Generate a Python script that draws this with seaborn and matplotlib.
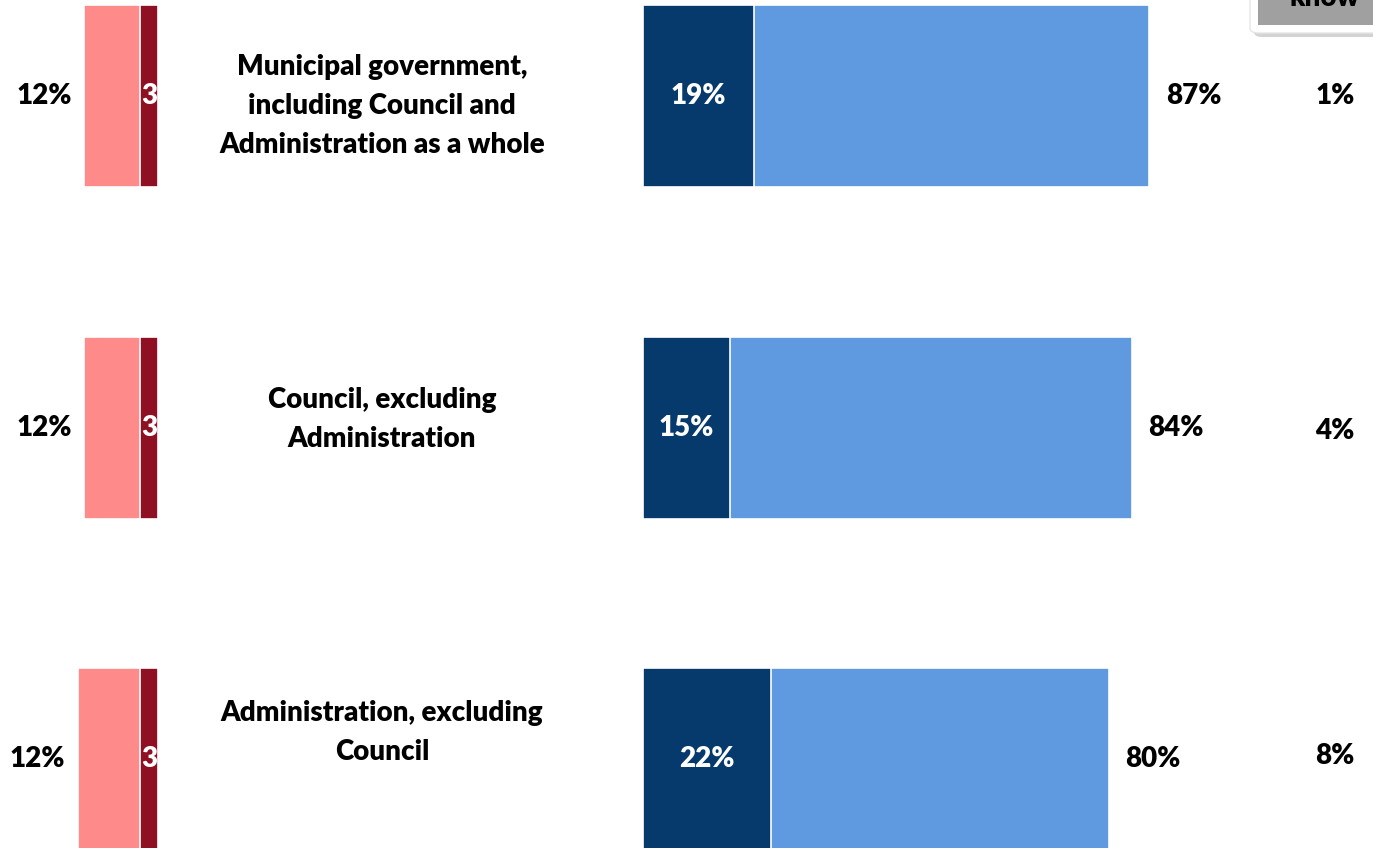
import matplotlib
matplotlib.use("Agg")
import matplotlib.pyplot as plt
import matplotlib.transforms as mtransforms
from matplotlib.patches import FancyBboxPatch
import pandas as pd
import seaborn as sns

# ---- data -------------------------------------------------------------
categories = [
    "Municipal government,\nincluding Council and\nAdministration as a whole",
    "Council, excluding\nAdministration",
    "Administration, excluding\nCouncil",
]
very_neg = [3, 3, 3]
somewhat_neg = [9.3, 9.3, 10.4]
neg_total_labels = ["12%", "12%", "12%"]
very_pos = [19, 15, 22]
somewhat_pos = [68, 69, 58]
dont_know = [1, 4, 8]

# ---- style ------------------------------------------------------------
C_SOME_NEG = "#FF8A8A"
C_VERY_NEG = "#8E1022"
C_VERY_POS = "#06396C"
C_SOME_POS = "#5F9AE1"
FONT = ["Lato", "DejaVu Sans"]
FS = 20
WEIGHT = "heavy"
label_nudge = [0.03, -0.025, -0.08]   # vertical tweak of category labels (rows)
dk_nudge = [0.0, 0.01, -0.01]

sns.set_theme(style="white")
plt.rcParams["font.family"] = FONT
plt.rcParams["text.color"] = "black"

W, H = 1373, 848
fig = plt.figure(figsize=(W / 100, H / 100), dpi=100)
fig.patch.set_facecolor("white")

df = pd.DataFrame({
    "category": categories,
    "very_neg": very_neg,
    "neg_total": [a + b for a, b in zip(very_neg, somewhat_neg)],
    "very_pos": very_pos,
    "pos_total": [a + b for a, b in zip(very_pos, somewhat_pos)],
    "dont_know": dont_know,
})

row_px = 331.5
ylim = (H / row_px - 96 / row_px, -96 / row_px)
bar_w = 182 / row_px

# left (negative) panel: zero at the right edge, bars grow leftwards
ax_l = fig.add_axes([0, 0, 158 / W, 1])
neg_px = 6.0
sns.barplot(data=df, x="neg_total", y="category", orient="h", color=C_SOME_NEG,
            width=bar_w, edgecolor="white", linewidth=1.2, saturation=1, ax=ax_l)
sns.barplot(data=df, x="very_neg", y="category", orient="h", color=C_VERY_NEG,
            width=bar_w, edgecolor="white", linewidth=1.2, saturation=1, ax=ax_l)
ax_l.set_xlim(158 / neg_px, 0)
ax_l.set_ylim(*ylim)

for i, row in df.iterrows():
    ax_l.text(row["very_neg"] / 2, i, f"{row['very_neg']:g}", color="white",
              ha="center", va="center", fontsize=FS, fontweight=WEIGHT, clip_on=True)
    ax_l.annotate(neg_total_labels[i], xy=(row["neg_total"], i), xytext=(-9, 0),
                  textcoords="offset points", ha="right", va="center",
                  fontsize=FS, fontweight=WEIGHT, color="black")

# right (positive) panel
pos_px = 5.82
x0 = 643
ax_r = fig.add_axes([x0 / W, 0, (W - x0) / W, 1])
sns.barplot(data=df, x="pos_total", y="category", orient="h", color=C_SOME_POS,
            width=bar_w, edgecolor="white", linewidth=1.2, saturation=1, ax=ax_r)
sns.barplot(data=df, x="very_pos", y="category", orient="h", color=C_VERY_POS,
            width=bar_w, edgecolor="white", linewidth=1.2, saturation=1, ax=ax_r)
ax_r.set_xlim(0, (W - x0) / pos_px)
ax_r.set_ylim(*ylim)

for i, row in df.iterrows():
    ax_r.text(row["very_pos"] / 2, i, f"{row['very_pos']}%", color="white",
              ha="center", va="center", fontsize=FS, fontweight=WEIGHT)
    ax_r.annotate(f"{row['pos_total']}%", xy=(row["pos_total"], i), xytext=(12, 0),
                  textcoords="offset points", ha="left", va="center",
                  fontsize=FS, fontweight=WEIGHT, color="black")

for ax in (ax_l, ax_r):
    ax.set_axis_off()

# category labels and "don't know" column
blend = mtransforms.blended_transform_factory(fig.transFigure, ax_r.transData)
for i, cat in enumerate(categories):
    fig.text(382 / W, i + label_nudge[i], cat, transform=blend, ha="center",
             va="center", fontsize=FS, fontweight=WEIGHT, linespacing=1.62,
             color="black")
    fig.text(1335 / W, i + dk_nudge[i], f"{dont_know[i]}%", transform=blend,
             ha="center", va="center", fontsize=FS, fontweight=WEIGHT,
             color="black")

# column header box for "Don't know"
shadow = FancyBboxPatch((1254 / W, (H - 37) / H), 140 / W, 60 / H,
                        boxstyle="round,pad=0,rounding_size=0.006",
                        transform=fig.transFigure, facecolor="#c8c8c8",
                        edgecolor="none", alpha=0.8, zorder=5)
box = FancyBboxPatch((1250 / W, (H - 33) / H), 140 / W, 60 / H,
                     boxstyle="round,pad=0,rounding_size=0.006",
                     transform=fig.transFigure, facecolor="white",
                     edgecolor="#e6e6e6", linewidth=1, zorder=6)
fig.patches.extend([shadow, box])
header = plt.Rectangle((1258 / W, (H - 25) / H), 130 / W, 40 / H,
                       transform=fig.transFigure, facecolor="#a0a0a0",
                       edgecolor="none", zorder=7)
fig.patches.append(header)
fig.text(1325 / W, (H - 11) / H, "Don't\nknow", ha="center", va="bottom",
         fontsize=FS, fontweight=WEIGHT, linespacing=1.1, zorder=8,
         color="black")

fig.savefig("out.png", dpi=100)
